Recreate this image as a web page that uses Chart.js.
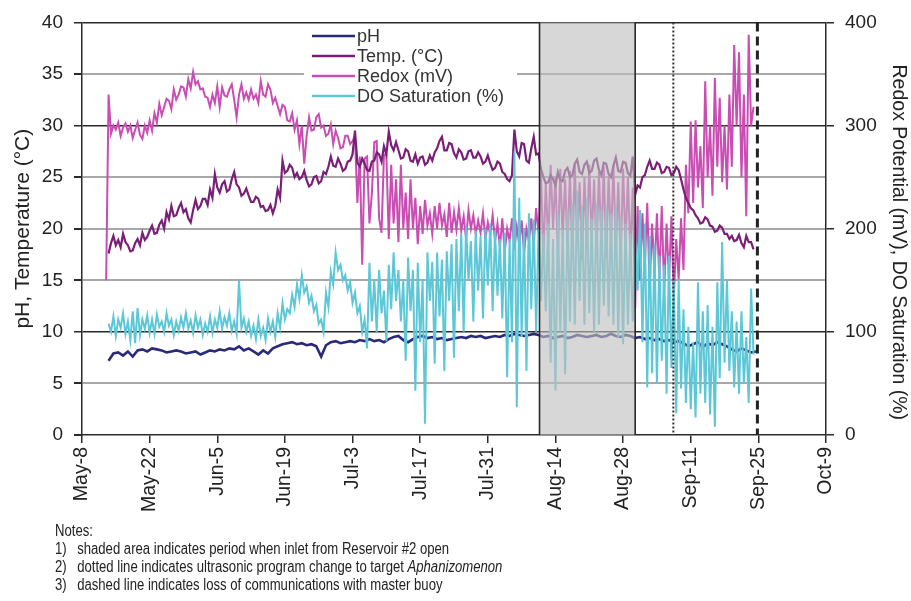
<!DOCTYPE html>
<html>
<head>
<meta charset="utf-8">
<script src="https://cdn.jsdelivr.net/npm/chart.js@4.4.1/dist/chart.umd.min.js"></script>
<style>
  html, body { margin: 0; padding: 0; background: #fff; }
  #wrap { position: relative; width: 911px; height: 601px; overflow: hidden; }
  canvas { position: absolute; left: 0; top: 0; }
  #notes { position: absolute; left: 55px; top: 522px; font-family: "Liberation Sans", Arial, sans-serif;
           font-size: 16px; line-height: 18px; color: #222; transform: scaleX(0.82); transform-origin: left top; white-space: nowrap; }
  #notes .n { display: inline-block; width: 27px; }
</style>
</head>
<body>
<div id="wrap">
  <canvas id="c" width="911" height="601"></canvas>
  <div id="notes">
    <div>Notes:</div>
    <div><span class="n">1)</span>shaded area indicates period when inlet from Reservoir #2 open</div>
    <div><span class="n">2)</span>dotted line indicates ultrasonic program change to target <i>Aphanizomenon</i></div>
    <div><span class="n">3)</span>dashed line indicates loss of communications with master buoy</div>
  </div>
</div>
<script>
// ---- x axis: days since May-8, tick every 14 days ----
const tickLabels = ['May-8','May-22','Jun-5','Jun-19','Jul-3','Jul-17','Jul-31','Aug-14','Aug-28','Sep-11','Sep-25','Oct-9'];
const leftTicks = [0, 5, 10, 15, 20, 25, 30, 35, 40];
const rightTicks = [0, 100, 200, 300, 400];

// ---- events (days since May-8) ----
const inletOpenPeriod = [94.7, 114.5];
const programChangeDay = 122.4;
const commsLossDay = 139.8;

// ---- pH: daily values from day 5.5 ----
const phStart = 5.5, phStep = 1;
const phValues = [7.2, 7.9, 8.0, 7.7, 8.1, 7.6, 8.2, 8.3, 8.1, 8.4,
 8.3, 8.2, 8.0, 8.1, 8.2, 8.1, 7.9, 8.0, 8.1, 7.8,
 8.0, 8.2, 8.1, 8.3, 8.2, 8.4, 8.3, 8.6, 8.2, 8.4,
 8.1, 7.8, 8.2, 7.9, 8.4, 8.6, 8.8, 8.9, 9.0, 8.8,
 8.9, 8.7, 8.8, 8.6, 7.6, 8.7, 9.0, 9.1, 8.9, 9.0,
 9.1, 9.0, 9.2, 9.1, 9.3, 9.1, 9.2, 9.0, 9.3, 9.5,
 9.6, 9.2, 9.0, 9.3, 9.5, 9.6, 9.4, 9.5, 9.3, 9.4,
 9.2, 9.3, 9.4, 9.5, 9.4, 9.6, 9.5, 9.6, 9.4, 9.5,
 9.6, 9.5, 9.7, 9.6, 9.8, 9.7, 9.6, 9.7, 9.8, 9.7,
 9.5, 9.6, 9.4, 9.5, 9.6, 9.4, 9.5, 9.7, 9.6, 9.5,
 9.6, 9.7, 9.5, 9.6, 9.8, 9.6, 9.5, 9.7, 9.6, 9.4,
 9.5, 9.3, 9.4, 9.2, 9.3, 9.1, 9.2, 9.0, 9.1, 8.9,
 8.6, 8.8, 9.0, 8.5, 8.9, 8.7, 9.0, 8.8, 8.6, 8.3,
 8.1, 8.4, 8.2, 8.0, 8.1];

// ---- Temperature: half-day values from day 5.5 ----
const tempStart = 5.5, tempStep = 0.5;
const tempValues = [
 17.6, 18.6, 19.3, 18.4, 18.9, 18.2, 19.5, 18.7, 18.4, 17.8,
 17.9, 18.6, 19.0, 18.4, 19.6, 18.9, 19.2, 19.8, 20.3, 19.5,
 19.6, 20.4, 20.8, 20.0, 21.6, 20.9, 22.2, 21.2, 21.3, 22.0,
 22.5, 21.6, 21.9, 21.0, 20.6, 21.8, 22.8, 21.9, 22.2, 22.9,
 22.9, 22.3, 23.8, 23.0, 25.3, 24.0, 23.5, 24.3, 24.6, 23.6,
 23.8, 24.8, 25.5, 24.3, 24.0, 23.2, 23.4, 23.9, 23.2, 22.6,
 22.6, 23.1, 22.9, 22.1, 22.2, 21.7, 21.8, 22.3, 21.5, 22.2,
 23.8, 23.0, 26.6, 25.4, 25.6, 26.2, 25.9, 25.0, 25.4, 24.8,
 25.0, 25.6, 24.7, 24.1, 24.3, 25.0, 25.1, 24.4, 24.6, 25.5,
 25.3, 26.0, 27.0, 26.1, 26.0, 26.8, 26.3, 25.6, 25.8, 26.5,
 26.6, 27.2, 29.5, 26.4, 26.0, 26.8, 26.3, 25.7, 25.6, 26.5,
 26.6, 27.4, 27.2, 26.5, 28.0, 27.2, 29.4, 28.1, 27.6, 28.4,
 27.6, 26.8, 26.9, 27.7, 27.5, 26.6, 26.5, 27.2, 26.3, 26.9,
 27.0, 26.2, 26.4, 27.1, 26.6, 27.4, 27.8, 28.5, 28.9, 27.6,
 27.6, 28.3, 28.2, 27.3, 26.9, 27.7, 27.4, 26.7, 26.8, 27.5,
 27.6, 26.9, 26.9, 27.4, 27.0, 26.3, 26.5, 27.1, 26.3, 25.7,
 25.9, 26.5, 26.3, 25.5, 25.3, 24.8, 24.6, 25.2, 29.6, 27.5,
 27.0, 28.3, 28.2, 26.6, 26.4, 27.8, 28.9, 27.2, 27.3, 25.8,
 25.0, 24.4, 24.5, 25.2, 24.8, 24.2, 25.5, 24.7, 24.6, 25.6,
 25.9, 25.0, 25.2, 26.3, 26.7, 25.5, 25.3, 26.2, 26.5, 25.4,
 25.6, 26.6, 26.8, 25.7, 25.2, 26.4, 26.3, 25.3, 25.0, 26.1,
 26.9, 25.6, 25.5, 26.5, 26.4, 25.4, 25.1, 27.0, 23.3, 24.2,
 24.0, 25.0, 25.2, 26.0, 26.6, 25.8, 25.8, 26.4, 26.2, 25.4,
 25.5, 26.0, 25.9, 25.2, 25.4, 26.0, 25.7, 24.8, 23.8, 23.0,
 22.5, 22.0, 21.8, 21.3, 21.0, 20.5, 20.6, 21.1, 20.9, 20.3,
 20.2, 19.7, 19.8, 20.3, 20.1, 19.5, 19.5, 19.0, 19.3, 18.8,
 18.9, 19.4, 18.6, 18.2, 19.3, 18.7, 18.7, 18.0];

// ---- Redox potential (mV): half-day values from day 5.0 ----
const redoxStart = 5.0, redoxStep = 0.5;
const redoxValues = [150, 330,
 292, 300, 296, 303, 290, 298, 302, 294, 300, 288, 296, 303, 291, 287, 300, 293, 305, 295,
 312, 303, 321, 310, 318, 326, 324, 316, 335, 325, 330, 338, 337, 328, 345, 336, 352, 340, 343, 335,
 336, 328, 327, 318, 330, 322, 338, 318, 337, 329, 328, 335, 340, 325, 308, 330, 340, 326, 332, 325,
 335, 326, 330, 322, 343, 330, 328, 340, 335, 322, 327, 319, 311, 320, 318, 305, 304, 312, 296, 305,
 282, 300, 263, 290, 308, 295, 296, 308, 311, 298, 300, 290, 292, 301, 282, 295, 288, 278, 279, 290,
 290, 282, 285, 290, 225, 270, 165, 268, 270, 205, 234, 284, 285, 210, 196, 272, 272, 190, 262, 205,
 248, 187, 262, 200, 235, 190, 248, 200, 230, 185, 222, 195, 228, 203, 215, 195, 222, 200, 225, 203,
 214, 192, 225, 196, 216, 199, 220, 198, 212, 190, 218, 200, 213, 195, 208, 196, 215, 190, 206, 194,
 213, 188, 205, 182, 210, 177, 200, 188, 210, 180, 202, 185, 208, 177, 200, 188, 210, 185, 220, 195,
 255, 172, 245, 185, 262, 200, 250, 175, 258, 192, 248, 180, 256, 172, 262, 186, 245, 170, 250, 182,
 262, 190, 248, 175, 255, 185, 260, 172, 250, 188, 262, 180, 245, 170, 258, 185, 250, 175, 240, 123,
 222, 150, 215, 165, 225, 142, 205, 158, 215, 150, 222, 140, 205, 150, 212, 134, 190, 151, 210, 160,
 262, 215, 304, 225, 305, 240, 280, 220, 343, 250, 300, 232, 346, 260, 327, 245, 300, 238, 330, 260,
 378, 300, 371, 250, 330, 212, 388, 300, 318];

// ---- DO saturation (%): half-day values from day 5.5 ----
const doStart = 5.5, doStep = 0.5;
const doValues = [
 108, 100, 115, 96, 112, 104, 118, 98, 110, 92, 120, 89, 123, 97, 112, 103, 116, 99, 112, 98,
 117, 105, 110, 100, 118, 106, 112, 97, 110, 101, 114, 104, 118, 103, 111, 99, 116, 104, 112, 97,
 108, 100, 115, 99, 112, 104, 120, 103, 114, 106, 118, 101, 110, 98, 150, 104, 113, 100, 110, 96,
 106, 93, 112, 96, 104, 92, 113, 100, 110, 95, 118, 104, 128, 112, 122, 118, 136, 124, 146, 132,
 155, 138, 144, 128, 135, 120, 126, 108, 112, 100, 138, 124, 158, 146, 177, 160, 165, 150, 155, 140,
 148, 128, 138, 118, 125, 100, 112, 84, 167, 110, 150, 100, 160, 118, 140, 91, 165, 122, 177, 130,
 160, 110, 150, 72, 172, 120, 160, 43, 167, 90, 150, 11, 177, 130, 168, 69, 177, 115, 170, 62,
 178, 130, 185, 75, 190, 120, 195, 100, 203, 150, 188, 110, 198, 140, 193, 113, 200, 145, 205, 120,
 198, 135, 190, 113, 196, 56, 190, 90, 275, 27, 230, 95, 200, 62, 215, 122, 209, 100, 200, 130,
 195, 120, 205, 70, 190, 43, 215, 100, 200, 59, 218, 110, 225, 107, 237, 130, 222, 107, 230, 118,
 210, 100, 225, 107, 218, 125, 222, 115, 215, 107, 222, 95, 210, 88, 205, 107, 195, 110, 190, 140,
 218, 90, 205, 46, 193, 60, 185, 50, 174, 72, 165, 40, 174, 65, 150, 21, 150, 45, 122, 31,
 105, 25, 90, 17, 148, 40, 120, 31, 126, 20, 105, 8, 148, 55, 187, 70, 150, 62, 120, 46,
 110, 40, 120, 50, 95, 31, 142, 78];

const seriesNames = ['pH', 'Temp. (\u00B0C)', 'Redox (mV)', 'DO Saturation (%)'];
const seriesColors = ['#2b2a78', '#7a1f78', '#c94db2', '#5cc7d7'];

function toPoints(start, step, vals) { return vals.map((v, i) => ({ x: start + i * step, y: v })); }

const FONT = "'Liberation Sans', Arial, sans-serif";
const DARK = '#2a2a2a';

const eventsPlugin = {
  id: 'events',
  afterDatasetsDraw(chart) {
    const { ctx, chartArea: a, scales: { x } } = chart;
    ctx.save();
    const x0 = x.getPixelForValue(inletOpenPeriod[0]);
    const x1 = x.getPixelForValue(inletOpenPeriod[1]);
    ctx.fillStyle = 'rgba(190,190,190,0.62)';
    ctx.fillRect(x0, a.top, x1 - x0, a.bottom - a.top);
    ctx.strokeStyle = DARK; ctx.lineWidth = 1.6;
    ctx.beginPath();
    ctx.moveTo(x0, a.top); ctx.lineTo(x0, a.bottom);
    ctx.moveTo(x1, a.top); ctx.lineTo(x1, a.bottom);
    ctx.stroke();
    const xd = x.getPixelForValue(programChangeDay);
    ctx.setLineDash([2, 2]); ctx.lineWidth = 2; ctx.strokeStyle = '#333';
    ctx.beginPath(); ctx.moveTo(xd, a.top); ctx.lineTo(xd, a.bottom); ctx.stroke();
    const xc = x.getPixelForValue(commsLossDay);
    ctx.setLineDash([9, 5]); ctx.lineWidth = 3; ctx.strokeStyle = '#222';
    ctx.beginPath(); ctx.moveTo(xc, a.top); ctx.lineTo(xc, a.bottom); ctx.stroke();
    ctx.restore();
  },
  afterDraw(chart) {
    const { ctx } = chart;
    ctx.save();
    ctx.fillStyle = '#fff';
    ctx.fillRect(304, 25, 213, 82);
    ctx.font = '18px ' + FONT;
    ctx.textBaseline = 'middle';
    ctx.textAlign = 'left';
    seriesNames.forEach((name, i) => {
      const y = 36 + i * 20;
      ctx.strokeStyle = seriesColors[i]; ctx.lineWidth = 2.5;
      ctx.beginPath(); ctx.moveTo(312, y); ctx.lineTo(355, y); ctx.stroke();
      ctx.fillStyle = '#333';
      ctx.fillText(name, 357, y + 1);
    });
    ctx.restore();
  }
};

const ds = (i, data, axis, order, w) => ({
  label: seriesNames[i], data, yAxisID: axis, borderColor: seriesColors[i], backgroundColor: seriesColors[i],
  borderWidth: w, pointRadius: 0, tension: 0, fill: false, order
});

new Chart(document.getElementById('c'), {
  type: 'line',
  data: {
    datasets: [
      ds(0, toPoints(phStart, phStep, phValues), 'y', 3, 2.6),
      ds(1, toPoints(tempStart, tempStep, tempValues), 'y', 1, 2.2),
      ds(2, toPoints(redoxStart, redoxStep, redoxValues), 'y2', 2, 2),
      ds(3, toPoints(doStart, doStep, doValues), 'y2', 0, 2)
    ]
  },
  options: {
    responsive: false,
    animation: false,
    devicePixelRatio: 1,
    layout: { padding: { top: 17, left: 0, right: 0, bottom: 0 } },
    plugins: { legend: { display: false }, tooltip: { enabled: false } },
    scales: {
      x: {
        type: 'linear', min: 0, max: 154,
        afterFit: s => { s.height = 166; },
        afterBuildTicks: s => { s.ticks = tickLabels.map((_, i) => ({ value: i * 14 })); },
        ticks: { autoSkip: false, maxRotation: 90, minRotation: 90, padding: 4, color: '#222',
                 font: { family: FONT, size: 19.5 },
                 callback: v => tickLabels[Math.round(v / 14)] },
        grid: { drawOnChartArea: false, drawTicks: true, tickLength: 8, tickColor: DARK, lineWidth: 1.5 },
        border: { color: DARK, width: 1.5 }
      },
      y: {
        position: 'left', min: 0, max: 40,
        afterFit: s => { s.width = 82; },
        afterBuildTicks: s => { s.ticks = leftTicks.map(v => ({ value: v })); },
        ticks: { padding: 11, color: '#222', font: { family: FONT, size: 19 } },
        title: { display: true, text: 'pH, Temperature (\u00B0C)', color: '#222',
                 font: { family: FONT, size: 21 }, padding: { top: 11, bottom: 0 } },
        grid: {
          tickLength: 8, tickColor: DARK,
          color: c => { const v = c.tick && c.tick.value; if (v === 0) return 'rgba(0,0,0,0)'; return (v === 10 || v === 30 || v === 40) ? DARK : '#a8a8a8'; },
          lineWidth: c => { const v = c.tick && c.tick.value; return (v === 10 || v === 30 || v === 40) ? 1.5 : 2; }
        },
        border: { color: DARK, width: 1.5 }
      },
      y2: {
        position: 'right', min: 0, max: 400,
        afterFit: s => { s.width = 85; },
        afterBuildTicks: s => { s.ticks = rightTicks.map(v => ({ value: v })); },
        ticks: { padding: 11, color: '#222', font: { family: FONT, size: 19 } },
        title: { display: true, text: '     Redox Potential (mV), DO Saturation (%)', color: '#222',
                 font: { family: FONT, size: 19.5 }, padding: { top: 1, bottom: 0 } },
        grid: { drawOnChartArea: false, tickLength: 8, tickColor: DARK, lineWidth: 1.5 },
        border: { color: DARK, width: 1.5 }
      }
    }
  },
  plugins: [eventsPlugin]
});
</script>
</body>
</html>
